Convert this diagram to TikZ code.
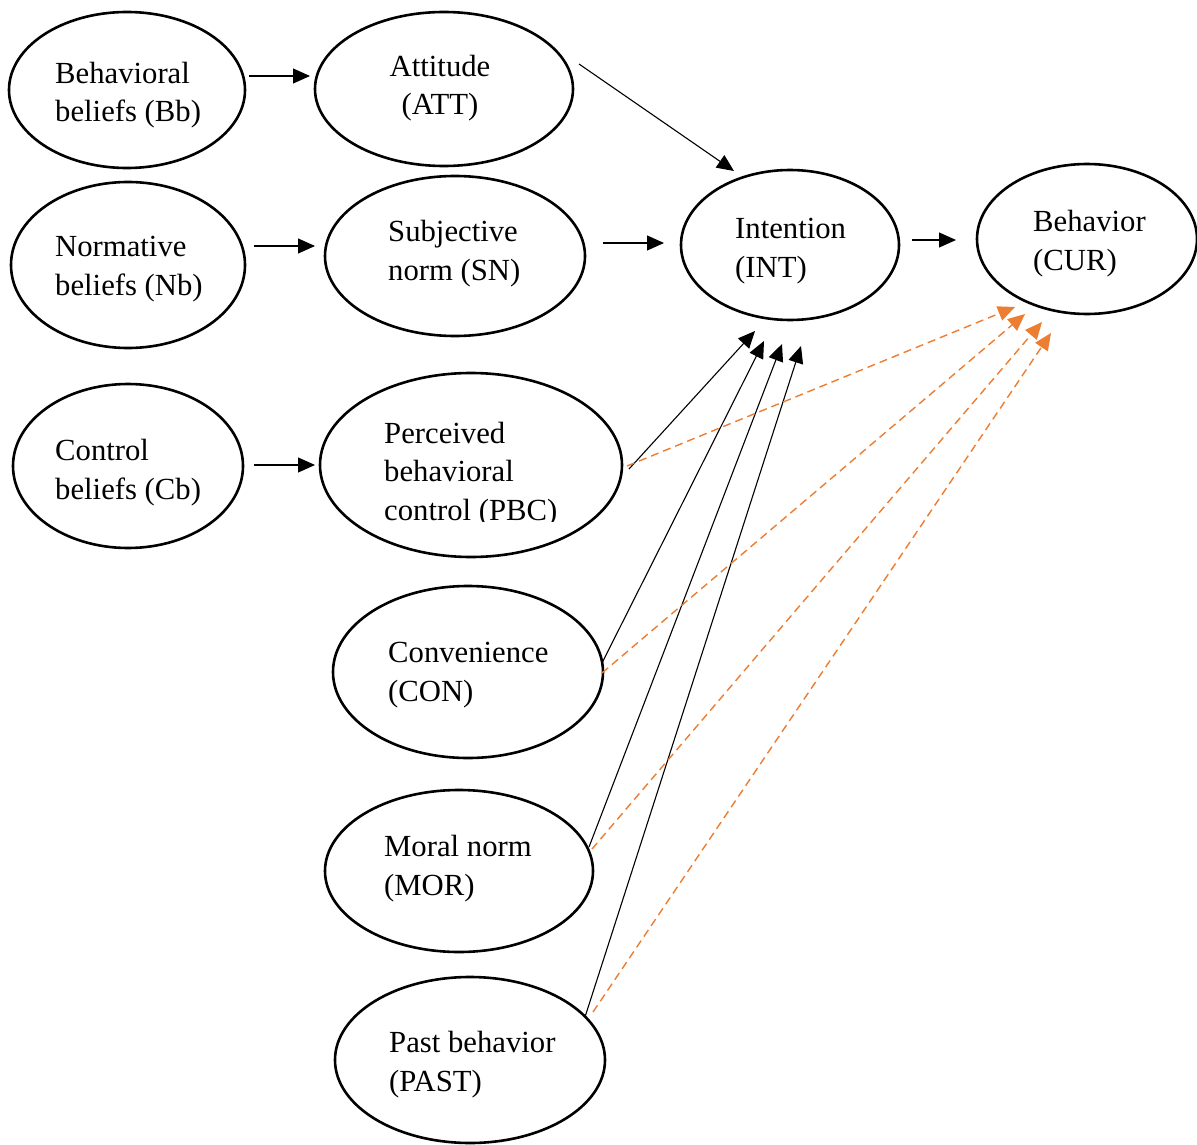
\documentclass[tikz,border=0pt]{standalone}
\usepackage{fontspec}
\setmainfont{Liberation Serif}
\usetikzlibrary{shapes.geometric,arrows.meta}
\definecolor{orangeline}{HTML}{ED7D31}
\tikzset{
  construct/.style={ellipse,draw=black,line width=2.6pt,inner sep=0pt},
  label/.style={align=left,inner sep=0pt,font=\fontsize{30.7}{38.5}\selectfont,anchor=base west},
  arr/.style={draw=black,line width=1.1pt,-{Triangle[length=17pt,width=15pt]}},
  dasharr/.style={draw=orangeline,line width=1.4pt,dash pattern=on 8pt off 5pt,
    -{Triangle[length=17pt,width=15pt]}}
}
\newcommand{\construct}[5]{%
  \node[construct,minimum width=#4pt,minimum height=#5pt] (#1) at (#2,#3) {};}
\begin{document}
\begin{tikzpicture}[x=1pt,y=-1pt]
\useasboundingbox[fill=white] (0,0) rectangle (1197,1145);

% constructs
\construct{bb}{127}{90}{236}{156}
\construct{att}{444}{89}{258}{154}
\construct{nb}{128}{265}{234}{166}
\construct{sn}{455}{256}{260}{160}
\construct{int}{790}{245}{218}{150}
\construct{cur}{1087}{239}{220}{150}
\construct{cb}{128}{466}{230}{164}
\construct{pbc}{471}{465}{302}{184}
\construct{con}{468}{672}{270}{172}
\construct{mor}{459}{871}{268}{162}
\construct{past}{470}{1060}{270}{166}

% labels (anchored on the baseline of the last line)
\node[label] (bbtext) at (55,122) {Behavioral\\beliefs (Bb)};
\node[label,align=center,anchor=base] (atttext) at (440,115) {Attitude\\(ATT)};
\node[label] (nbtext) at (55,295) {Normative\\beliefs (Nb)};
\node[label] (sntext) at (388,280) {Subjective\\norm (SN)};
\node[label] (inttext) at (735,277) {Intention\\(INT)};
\node[label] (curtext) at (1033,270) {Behavior\\(CUR)};
\node[label] (cbtext) at (55,499) {Control\\beliefs (Cb)};
\begin{scope}
  \clip (320,380) rectangle (640,521);
  \node[label] (pbctext) at (384,520) {Perceived\\behavioral\\control (PBC)};
\end{scope}
\node[label] (context) at (388,701) {Convenience\\(CON)};
\node[label] (mortext) at (384,895) {Moral norm\\(MOR)};
\node[label] (pasttext) at (389,1091) {Past behavior\\(PAST)};

% connector end points
\coordinate (bb-o) at (249,76);   \coordinate (att-i) at (310,76);
\coordinate (nb-o) at (254,246);  \coordinate (sn-i) at (315,246);
\coordinate (cb-o) at (254,465);  \coordinate (pbc-i) at (315,465);
\coordinate (sn-o) at (603,243);  \coordinate (int-w) at (664,243);
\coordinate (int-o) at (912,240); \coordinate (cur-w) at (956,240);
\coordinate (att-o) at (579,64);  \coordinate (int-n) at (734,171);
\coordinate (pbc-o) at (629,469); \coordinate (int-s1) at (755,331);
\coordinate (con-o) at (602,663); \coordinate (int-s2) at (764,341);
\coordinate (mor-o) at (589,847); \coordinate (int-s3) at (782,344);
\coordinate (past-o) at (585,1017); \coordinate (int-s4) at (801,346);
\coordinate (pbc-d) at (627,466); \coordinate (cur-s1) at (1015,307);
\coordinate (con-d) at (602,673); \coordinate (cur-s2) at (1025,314);
\coordinate (mor-d) at (592,849); \coordinate (cur-s3) at (1042,322);
\coordinate (past-d) at (593,1012); \coordinate (cur-s4) at (1051,333);

% belief -> attitude paths
\draw[arr] (bb-o) -- (att-i);
\draw[arr] (nb-o) -- (sn-i);
\draw[arr] (cb-o) -- (pbc-i);
% predictors of intention
\draw[arr] (att-o) -- (int-n);
\draw[arr] (sn-o) -- (int-w);
\draw[arr] (pbc-o) -- (int-s1);
\draw[arr] (con-o) -- (int-s2);
\draw[arr] (mor-o) -- (int-s3);
\draw[arr] (past-o) -- (int-s4);
% intention -> behaviour
\draw[arr] (int-o) -- (cur-w);
% direct paths to behaviour
\draw[dasharr] (pbc-d) -- (cur-s1);
\draw[dasharr] (con-d) -- (cur-s2);
\draw[dasharr] (mor-d) -- (cur-s3);
\draw[dasharr] (past-d) -- (cur-s4);
\end{tikzpicture}
\end{document}
